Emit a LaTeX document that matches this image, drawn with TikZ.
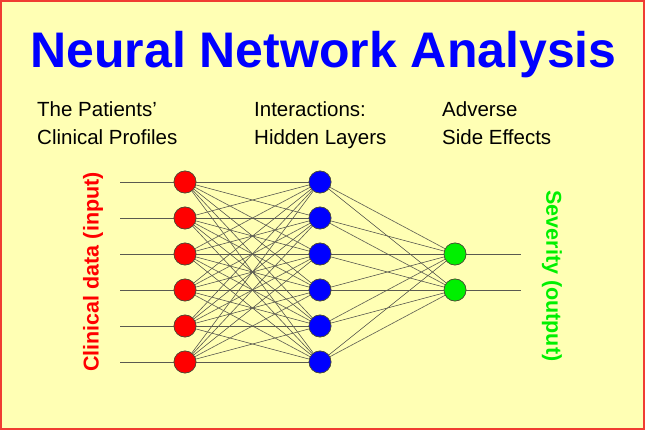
\documentclass[tikz,border=0pt]{standalone}
\usepackage{fontspec}
\setmainfont{Liberation Sans}
\definecolor{bg}{RGB}{255,255,180}
\definecolor{wire}{RGB}{90,90,80}
\definecolor{nred}{RGB}{255,0,0}
\definecolor{nblue}{RGB}{0,0,255}
\definecolor{ngreen}{RGB}{0,240,0}
\definecolor{frame}{RGB}{240,60,50}
\begin{document}
\begin{tikzpicture}[x=1pt,y=-1pt,
  neuron/.style={circle,draw=black!70!bg,line width=0.6pt,minimum size=22pt,inner sep=0pt},
  inn/.style={neuron,fill=nred},
  hid/.style={neuron,fill=nblue},
  outn/.style={neuron,fill=ngreen},
  wireline/.style={draw=wire,line width=0.6pt},
  sub/.style={anchor=base west,inner sep=0pt,font=\fontsize{20.5}{24}\selectfont,text=black}]
\fill[bg] (0,0) rectangle (645,430);
\useasboundingbox (0,0) rectangle (645,430);
\draw[frame,line width=2pt] (1,1) rectangle (644,429);
\node[anchor=base,inner sep=0pt,font=\fontsize{50}{56}\selectfont\bfseries,text=nblue] (title) at (323.5,68) {Neural Network Analysis};
\node[sub] (s1a) at (37,117) {The Patients’};
\node[sub] (s1b) at (37,145) {Clinical Profiles};
\node[sub] (s2a) at (254,117) {Interactions:};
\node[sub] (s2b) at (254,145) {Hidden Layers};
\node[sub] (s3a) at (442,117) {Adverse};
\node[sub] (s3b) at (442,145) {Side Effects};
\foreach \i in {1,...,6} {
  \coordinate (src\i) at (120,{146+36*\i});
  \node[inn] (in\i) at (185,{146+36*\i}) {};
  \node[hid] (h\i) at (320,{146+36*\i}) {};
}
\node[outn] (o1) at (455,254) {};
\node[outn] (o2) at (455,290) {};
\coordinate (dst1) at (521,254);
\coordinate (dst2) at (521,290);
\begin{scope}[on background layer/.style={}]
\foreach \i in {1,...,6} {
  \draw[wireline] (src\i) -- (in\i);
  \foreach \j in {1,...,6} { \draw[wireline] (in\i) -- (h\j); }
  \foreach \k in {1,2} { \draw[wireline] (h\i) -- (o\k); }
}
\draw[wireline] (o1) -- (dst1);
\draw[wireline] (o2) -- (dst2);
\end{scope}
\foreach \i in {1,...,6} {
  \node[inn] at (in\i) {};
  \node[hid] at (h\i) {};
}
\node[outn] at (o1) {};
\node[outn] at (o2) {};
\node[rotate=90,inner sep=0pt,font=\fontsize{21.5}{24}\selectfont\bfseries,text=nred] (lin) at (93,272) {Clinical data (input)};
\node[rotate=-90,inner sep=0pt,font=\fontsize{21.5}{24}\selectfont\bfseries,text=ngreen] (lout) at (552,276) {Severity (output)};
\end{tikzpicture}
\end{document}
